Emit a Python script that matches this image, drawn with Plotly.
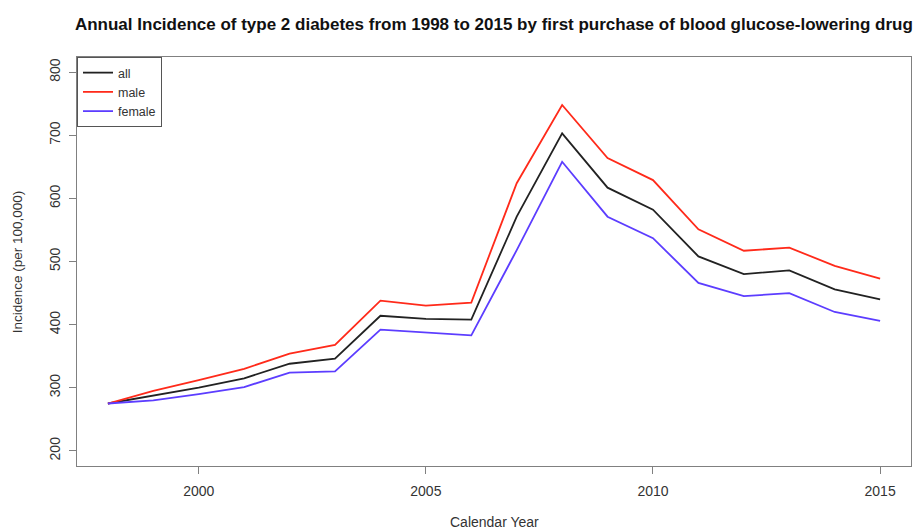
import plotly.graph_objects as go

# Annual incidence of type 2 diabetes (per 100,000), 1998-2015
years = list(range(1998, 2016))
incidence_all = [275, 287, 300, 315, 338, 346, 414, 409, 408, 571, 703, 617, 582, 508, 480, 486, 456, 440]
incidence_male = [275, 295, 312, 330, 354, 368, 438, 430, 435, 624, 748, 664, 629, 551, 517, 522, 493, 473]
incidence_female = [275, 280, 290, 301, 324, 326, 392, 388, 383, 518, 658, 571, 537, 466, 445, 450, 420, 406]

x_ticks = [2000, 2005, 2010, 2015]
y_ticks = [200, 300, 400, 500, 600, 700, 800]

series = [
    ("all", incidence_all, "#222222"),
    ("male", incidence_male, "#FF2A1A"),
    ("female", incidence_female, "#5C3DFF"),
]

FONT = "Liberation Sans, Arial, sans-serif"

fig = go.Figure()
for name, values, color in series:
    fig.add_trace(go.Scatter(
        x=years, y=values, name=name, mode="lines",
        line=dict(color=color, width=1.8),
    ))

axis_common = dict(
    showgrid=False, zeroline=False, showline=True, linecolor="#808080", linewidth=1,
    mirror=True, ticks="outside", ticklen=7, tickcolor="#808080", tickwidth=1,
    tickfont=dict(family=FONT, size=14, color="#333333"),
)

fig.update_layout(
    width=918, height=530,
    margin=dict(l=77, r=7, t=57, b=64),
    paper_bgcolor="white", plot_bgcolor="white",
    font=dict(family=FONT, size=14, color="#333333"),
    title=dict(
        text="<b>Annual Incidence of type 2 diabetes from 1998 to 2015 by first purchase of blood glucose-lowering drug</b>",
        x=0.538, xanchor="center", y=0.955, yanchor="middle",
        font=dict(family=FONT, size=17, color="#111111"),
    ),
    xaxis=dict(axis_common, range=[1997.32, 2015.68], tickvals=x_ticks, ticklabelstandoff=5),
    yaxis=dict(axis_common, range=[176, 824], tickvals=y_ticks, tickangle=-90, ticklabelstandoff=3),
    legend=dict(
        x=0, y=1, xanchor="left", yanchor="top",
        bgcolor="white", bordercolor="#555555", borderwidth=1,
        font=dict(family=FONT, size=12.5, color="#333333"),
        tracegroupgap=0, itemwidth=30,
    ),
    annotations=[
        dict(text="Calendar Year", xref="paper", yref="paper", x=0.5, y=-0.137,
             xanchor="center", yanchor="middle", showarrow=False,
             font=dict(family=FONT, size=14, color="#333333")),
        dict(text="Incidence (per 100,000)", xref="paper", yref="paper", x=-0.071, y=0.5,
             xanchor="center", yanchor="middle", showarrow=False, textangle=-90,
             font=dict(family=FONT, size=13.5, color="#333333")),
    ],
)

fig.write_html("out.html")
